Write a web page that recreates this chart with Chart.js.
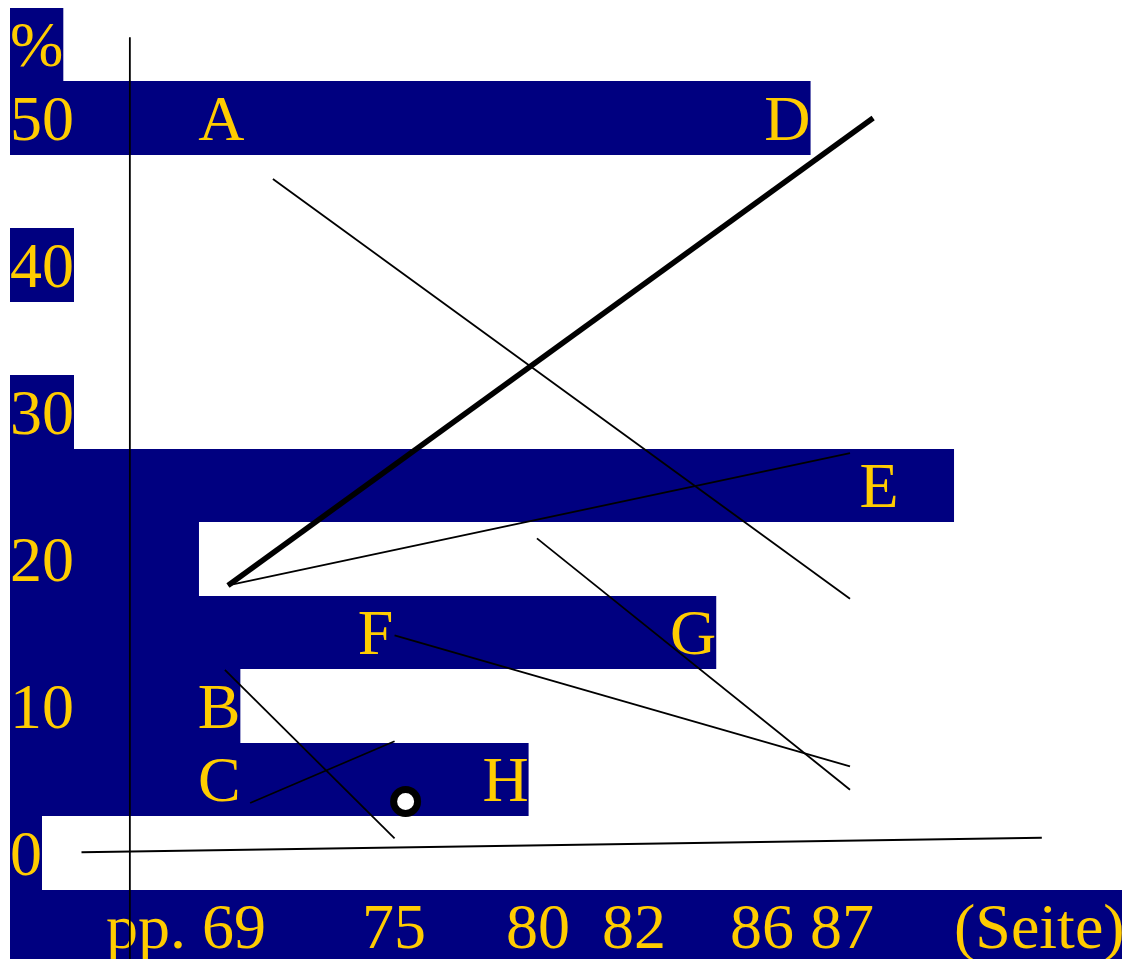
<!DOCTYPE html>
<html>
<head>
<meta charset="utf-8">
<script src="https://cdn.jsdelivr.net/npm/chart.js@4"></script>
<style>
  html, body { margin: 0; padding: 0; background: #fff; }
  #wrap { width: 1122px; height: 959px; }
</style>
</head>
<body>
<div id="wrap"><canvas id="slideChart"></canvas></div>
<script>
// axis labels
var unitLabel = "%";
var yTickValues = [50, 40, 30, 20, 10, 0];
var yTickLabels = ["50", "40", "30", "20", "10", "0"];
var xTickLabels = ["pp. 69", "75", "80", "82", "86 87", "(Seite)"];

// letters: page and percent where each one stands
var pointNames = ["A", "B", "C", "D", "E", "F", "G", "H"];
var pointPages = [68.81, 68.74, 68.75, 85.19, 87.84, 73.27, 82.46, 77.03];
var pointLevels = [50, 10, 5, 50, 25, 15, 15, 5];

// lines, [page, percent] at both ends
var lineD = [[69, 18.2], [87.67, 50.0]];
var lineA = [[70.3, 45.85], [87, 17.3]];
var lineE = [[69, 18.2], [87, 27.2]];
var lineG = [[77.94, 21.4], [87, 4.3]];
var lineF = [[73.82, 14.8], [87, 5.9]];
var lineB = [[68.91, 12.45], [73.82, 1.0]];
var lineC = [[69.64, 3.4], [73.82, 7.6]];
var baseLine = [[64.76, 0.05], [92.55, 1.04]];
var axisLine = [[66.16, 55.5], [66.16, -8]];
var pointH = [[74.14, 3.5]];

// layout of the text rows (one row every 5 %)
var rowLevels = [55, 50, 40, 30, 25, 20, 15, 10, 5, 0, -5];
var rowFillTo = { 25: 90.01, 20: 68.16 };
var xTickGaps = [6, 6, 5, 2, 4, 5];
var leftMargin = 10;
var navy = "#000080";
var yellow = "#ffcc00";

function leadText(level) {
    if (level === 55) return unitLabel;
    if (level === -5) {
        var s = "";
        xTickLabels.forEach(function (t, i) { s += " ".repeat(xTickGaps[i]) + t; });
        return s;
    }
    var i = yTickValues.indexOf(level);
    return i >= 0 ? yTickLabels[i] : "";
}

var slideText = {
    id: "slideText",
    beforeDatasetsDraw: function (chart) {
        var ctx = chart.ctx;
        var x = chart.scales.x, y = chart.scales.y;
        var rowH = y.getPixelForValue(0) - y.getPixelForValue(5);
        ctx.save();
        ctx.font = '64px "Liberation Serif"';
        ctx.textBaseline = "alphabetic";
        rowLevels.forEach(function (level) {
            var mid = y.getPixelForValue(level);
            var lead = leadText(level);
            var end = leftMargin + ctx.measureText(lead).width;
            var letters = [];
            pointNames.forEach(function (n, i) {
                if (pointLevels[i] !== level) return;
                var cx = x.getPixelForValue(pointPages[i]);
                var w = ctx.measureText(n).width;
                letters.push({ t: n, left: cx - w / 2 });
                end = Math.max(end, cx + w / 2);
            });
            if (rowFillTo[level] !== undefined) {
                end = Math.max(end, x.getPixelForValue(rowFillTo[level]));
            }
            var top = Math.round(mid - rowH / 2);
            var bottom = Math.round(mid + rowH / 2);
            ctx.fillStyle = navy;
            ctx.fillRect(leftMargin, top, end - leftMargin, bottom - top);
            ctx.fillStyle = yellow;
            var base = mid + 21.7;
            ctx.textAlign = "left";
            if (lead) ctx.fillText(lead, leftMargin, base);
            letters.forEach(function (l) { ctx.fillText(l.t, l.left, base); });
        });
        ctx.restore();
    }
};

function seg(points, width) {
    return {
        data: points.map(function (p) { return { x: p[0], y: p[1] }; }),
        showLine: true,
        borderColor: "#000",
        borderWidth: width,
        pointRadius: 0,
        pointHoverRadius: 0,
        clip: false
    };
}

new Chart("slideChart", {
    type: "scatter",
    data: {
        datasets: [
            seg(axisLine, 1.8),
            seg(baseLine, 2),
            seg(lineA, 1.8),
            seg(lineE, 1.8),
            seg(lineG, 1.8),
            seg(lineF, 1.8),
            seg(lineB, 1.8),
            seg(lineC, 1.8),
            seg(lineD, 5.5),
            {
                data: pointH.map(function (p) { return { x: p[0], y: p[1] }; }),
                showLine: false,
                pointRadius: 12,
                pointHoverRadius: 12,
                pointBorderWidth: 7,
                pointBackgroundColor: "#fff",
                pointBorderColor: "#000",
                clip: false
            }
        ]
    },
    options: {
        animation: false,
        responsive: true,
        maintainAspectRatio: false,
        events: [],
        layout: { padding: 0, autoPadding: false },
        plugins: {
            legend: { display: false },
            tooltip: { enabled: false }
        },
        scales: {
            x: { type: "linear", display: false, min: 62.402, max: 94.871 },
            y: { type: "linear", display: false, min: -7.211, max: 58.027 }
        }
    },
    plugins: [slideText]
});
</script>
</body>
</html>
